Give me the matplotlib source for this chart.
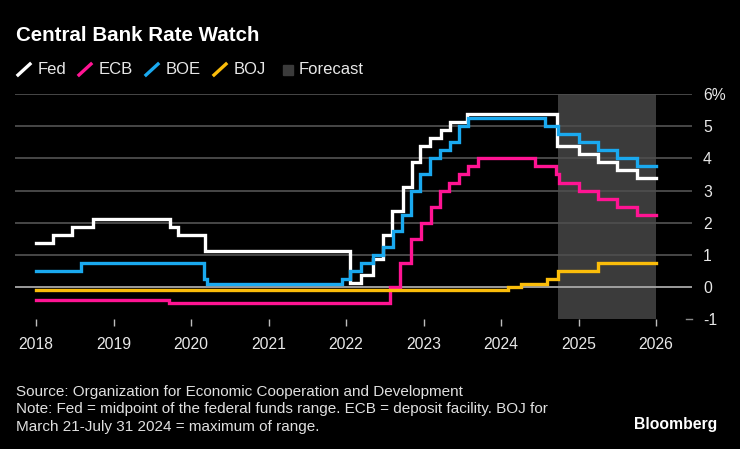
import matplotlib
matplotlib.use("Agg")
import matplotlib.pyplot as plt
from matplotlib.lines import Line2D
from matplotlib.patches import Rectangle

plt.rcParams['font.family'] = ['Liberation Sans', 'DejaVu Sans']

# ---- data (decimal year, rate %) ----
fed_t = [2018.0, 2018.22, 2018.46, 2018.74, 2019.73, 2019.83, 2020.18, 2022.05,
         2022.19, 2022.35, 2022.48, 2022.59, 2022.74, 2022.85, 2022.95, 2023.08,
         2023.23, 2023.34, 2023.56, 2024.72, 2025.0, 2025.25, 2025.5, 2025.75, 2026.0]
fed_v = [1.375, 1.625, 1.875, 2.125, 1.875, 1.625, 1.125, 0.125,
         0.375, 0.875, 1.625, 2.375, 3.125, 3.875, 4.375, 4.625,
         4.875, 5.125, 5.375, 4.375, 4.125, 3.875, 3.625, 3.375, 3.375]

ecb_t = [2018.0, 2019.72, 2022.57, 2022.70, 2022.84, 2022.97, 2023.10, 2023.21,
         2023.33, 2023.46, 2023.57, 2023.70, 2024.44, 2024.71, 2024.75, 2025.0,
         2025.25, 2025.5, 2025.75, 2026.0]
ecb_v = [-0.4, -0.5, 0.0, 0.75, 1.5, 2.0, 2.5, 3.0,
         3.25, 3.5, 3.75, 4.0, 3.75, 3.5, 3.25, 3.0,
         2.75, 2.5, 2.25, 2.25]

boe_t = [2018.0, 2018.58, 2020.17, 2020.20, 2021.95, 2022.05, 2022.19, 2022.35,
         2022.48, 2022.61, 2022.72, 2022.84, 2022.95, 2023.08, 2023.21, 2023.34,
         2023.46, 2023.57, 2024.57, 2024.74, 2025.0, 2025.25, 2025.5, 2025.75, 2026.0]
boe_v = [0.5, 0.75, 0.25, 0.1, 0.25, 0.5, 0.75, 1.0,
         1.25, 1.75, 2.25, 3.0, 3.5, 4.0, 4.25, 4.5,
         5.0, 5.25, 5.0, 4.75, 4.5, 4.25, 4.0, 3.75, 3.75]

boj_t = [2018.0, 2024.09, 2024.26, 2024.59, 2024.74, 2025.25, 2026.0]
boj_v = [-0.1, 0.0, 0.1, 0.25, 0.5, 0.75, 0.75]

forecast_start, forecast_end = 2024.73, 2026.0
years = list(range(2018, 2027))
yticks = [-1, 0, 1, 2, 3, 4, 5, 6]
ylabels = ['-1', '0', '1', '2', '3', '4', '5', '6%']

series = [("Fed", fed_t, fed_v, "#ffffff"),
          ("ECB", ecb_t, ecb_v, "#ff1493"),
          ("BOE", boe_t, boe_v, "#1aa9ef"),
          ("BOJ", boj_t, boj_v, "#fbbd0a")]

BG = "#000000"
fig = plt.figure(figsize=(7.4, 4.49), dpi=100, facecolor=BG)
ax = fig.add_axes([15/740, 1-319.3/449, (692-15)/740, (319.3-94)/449])
ax.set_facecolor(BG)
ax.set_xlim(2018 - 21/77.5, 2018 + 656/77.5)
ax.set_ylim(-1, 6)

# forecast band
ax.axvspan(forecast_start, forecast_end, ymin=0, ymax=1, color="#3b3b3b", zorder=1, lw=0)

# gridlines
for y in range(1, 7):
    ax.axhline(y, color="#4d4d4d", lw=1.3, zorder=2)
ax.axhline(0, color="#a8a8a8", lw=1.3, zorder=2)
ax.axhline(-1, xmin=1-6/677, xmax=1, color="#8a8a8a", lw=1.0, zorder=2, clip_on=False)

for name, t, v, c in series:
    ax.plot(t, v, drawstyle="steps-post", color=c, lw=2.4, zorder=3,
            solid_joinstyle="miter")

for s in ax.spines.values():
    s.set_visible(False)

ax.set_xticks(years)
ax.set_xticklabels([str(y) for y in years])
ax.tick_params(axis='x', colors="#bdbdbd", length=5, width=1, pad=8,
               labelsize=11.3, labelcolor="#e8e8e8")
ax.yaxis.tick_right()
ax.set_yticks(yticks)
ax.set_yticklabels(ylabels)
ax.tick_params(axis='y', length=0, pad=8, labelsize=11.3, labelcolor="#e8e8e8")
for lab in ax.get_yticklabels():
    lab.set_horizontalalignment('left')

# title
fig.text(16/740, 1-35.5/449, "Central Bank Rate Watch", color="white",
         fontsize=14.8, fontweight="bold", va="center", ha="left")

# legend
ly = 1 - 70/449
items = [(17, 38, "Fed", "#ffffff"), (78, 99, "ECB", "#ff1493"),
         (145, 166, "BOE", "#1aa9ef"), (213, 234, "BOJ", "#fbbd0a")]
for x0, xt, lab, c in items:
    fig.add_artist(Line2D([(x0+1)/740, (x0+13)/740], [1-75/449, 1-64/449],
                          color=c, lw=2.4, transform=fig.transFigure))
    fig.text(xt/740, ly, lab, color="#e8e8e8", fontsize=12, va="center", ha="left")
fig.add_artist(Rectangle((283/740, 1-75/449), 10/740, 10/449, color="#3b3b3b",
                         transform=fig.transFigure))
fig.text(299/740, ly, "Forecast", color="#e8e8e8", fontsize=12, va="center", ha="left")

# footer
foot = ["Source: Organization for Economic Cooperation and Development",
        "Note: Fed = midpoint of the federal funds range. ECB = deposit facility. BOJ for",
        "March 21-July 31 2024 = maximum of range."]
for i, line in enumerate(foot):
    fig.text(16/740, 1-(392+17.5*i)/449, line, color="#e0e0e0", fontsize=11,
             va="center", ha="left")
fig.text(717/740, 1-424/449, "Bloomberg", color="white", fontsize=11.3,
         fontweight="bold", va="center", ha="right")

fig.savefig("out.png", dpi=100, facecolor=BG)
